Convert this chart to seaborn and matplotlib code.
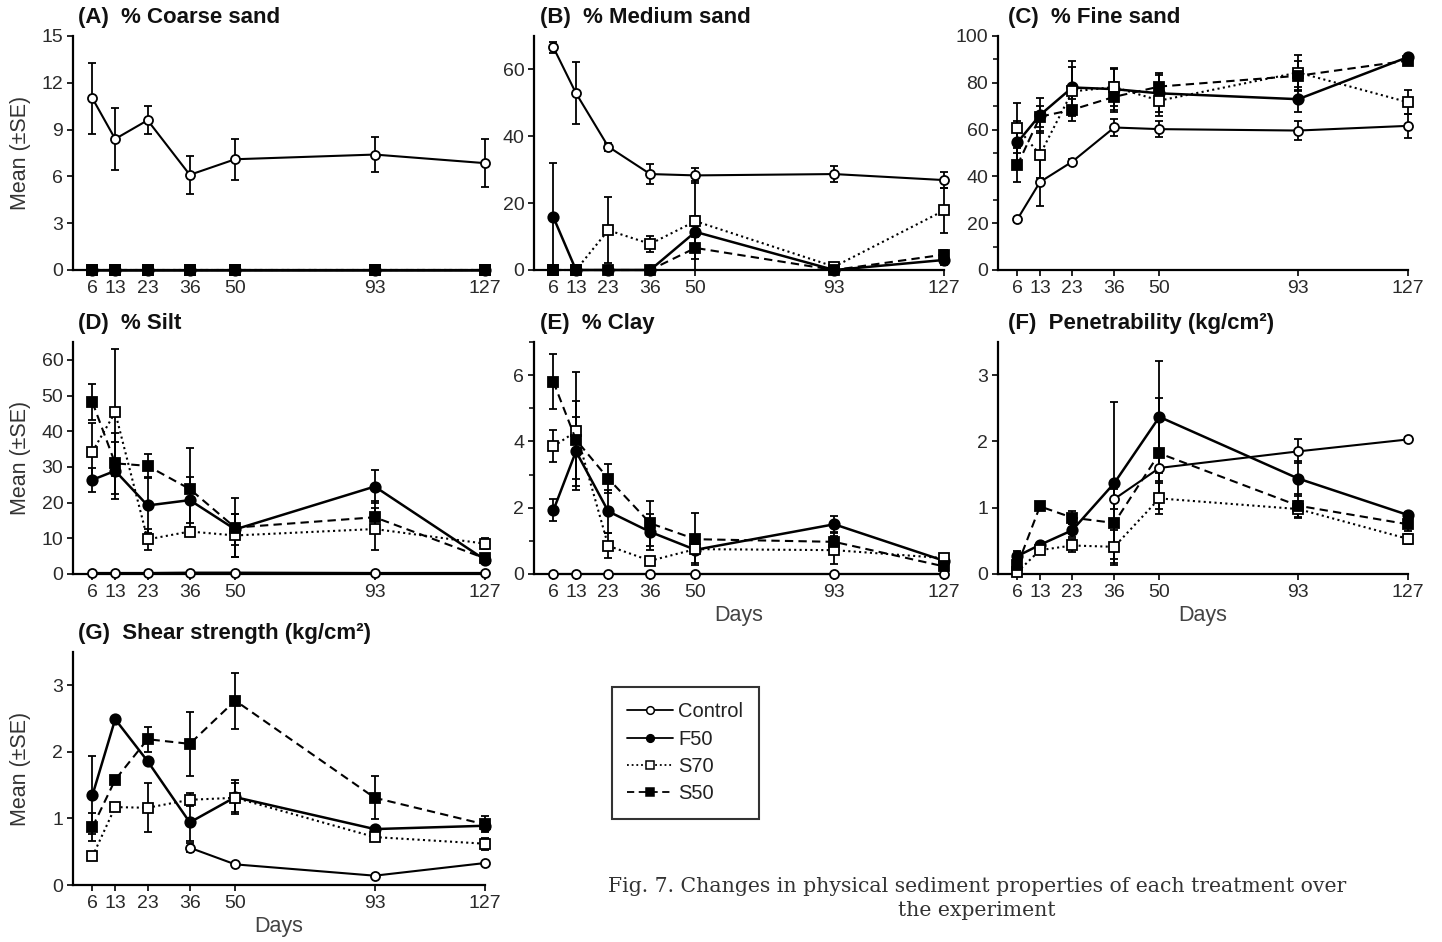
import numpy as np
import pandas as pd
import matplotlib
matplotlib.use("Agg")
import matplotlib.pyplot as plt
from matplotlib.lines import Line2D
from matplotlib.ticker import MultipleLocator
import seaborn as sns

sns.set_theme(style="ticks")
plt.rcParams['font.family'] = ['Liberation Sans', 'DejaVu Sans']

# ---------------- data ----------------
days = [6, 13, 23, 36, 50, 93, 127]
treatments = ["Control", "F50", "S70", "S50"]
nan = np.nan

# (A) % Coarse sand
coarse_control = [11.0, 8.4, 9.6, 6.1, 7.1, 7.4, 6.85]
coarse_control_se = [2.3, 2.0, 0.9, 1.2, 1.3, 1.1, 1.55]
coarse_f50 = [0, 0, 0, 0, 0, 0, 0]
coarse_f50_se = [0, 0, 0, 0, 0, 0, 0]
coarse_s70 = [0, 0, 0, 0, 0, 0, 0]
coarse_s70_se = [0, 0, 0, 0, 0, 0, 0]
coarse_s50 = [0, 0, 0, 0, 0, 0, 0]
coarse_s50_se = [0, 0, 0, 0, 0, 0, 0]

# (B) % Medium sand
medium_control = [66.6, 52.9, 36.9, 28.7, 28.3, 28.7, 26.9]
medium_control_se = [1.7, 9.3, 1.2, 2.9, 2.2, 2.5, 2.3]
medium_f50 = [15.8, 0, 0, 0, 11.4, 0, 3.0]
medium_f50_se = [16.3, 0, 0, 0, 15.3, 0, 1.5]
medium_s70 = [0, 0, 11.9, 7.8, 14.6, 1.0, 17.8]
medium_s70_se = [0, 0, 9.8, 2.4, 1.5, 1.0, 6.7]
medium_s50 = [0, 0, 0, 0, 6.6, 0, 4.6]
medium_s50_se = [0, 0, 0, 0, 3.4, 0, 1.3]

# (C) % Fine sand
fine_control = [21.7, 37.6, 46.3, 60.9, 60.2, 59.6, 61.6]
fine_control_se = [1.0, 10.3, 1.0, 3.6, 3.3, 4.2, 5.0]
fine_f50 = [54.5, 66.2, 78.0, 77.3, 75.5, 73.0, 91.0]
fine_f50_se = [9.0, 7.5, 11.3, 8.8, 8.0, 5.3, 1.0]
fine_s70 = [60.7, 49.3, 76.3, 78.2, 72.4, 84.4, 71.7]
fine_s70_se = [10.7, 10.0, 10.5, 8.2, 6.5, 7.5, 5.2]
fine_s50 = [44.8, 65.5, 68.5, 74.0, 78.4, 83.0, 89.5]
fine_s50_se = [7.3, 4.5, 4.7, 6.5, 6.0, 6.5, 1.2]

# (D) % Silt
silt_control = [0.3, 0.3, 0.3, 0.4, 0.4, 0.3, 0.3]
silt_control_se = [0, 0, 0, 0, 0, 0, 0]
silt_f50 = [26.4, 28.9, 19.2, 20.7, 12.5, 24.5, 4.0]
silt_f50_se = [3.4, 8.0, 7.7, 6.5, 4.3, 4.6, 1.0]
silt_s70 = [34.3, 45.3, 9.7, 11.9, 10.8, 12.6, 8.5]
silt_s70_se = [8.0, 17.8, 3.0, 1.2, 6.0, 5.8, 1.5]
silt_s50 = [48.1, 31.0, 30.3, 23.8, 13.0, 15.9, 4.4]
silt_s50_se = [5.0, 8.5, 3.2, 11.5, 8.3, 4.5, 1.0]

# (E) % Clay
clay_control = [0, 0, 0, 0, 0, 0, 0]
clay_control_se = [0, 0, 0, 0, 0, 0, 0]
clay_f50 = [1.92, 3.70, 1.89, 1.27, 0.73, 1.50, 0.40]
clay_f50_se = [0.33, 1.05, 0.65, 0.55, 0.40, 0.25, 0.05]
clay_s70 = [3.85, 4.30, 0.85, 0.40, 0.75, 0.72, 0.48]
clay_s70_se = [0.48, 1.78, 0.38, 0.12, 0.15, 0.42, 0.10]
clay_s50 = [5.80, 4.05, 2.88, 1.53, 1.05, 0.97, 0.23]
clay_s50_se = [0.83, 1.18, 0.44, 0.68, 0.78, 0.30, 0.10]

# (F) Penetrability (kg/cm2)
pen_control = [nan, nan, nan, 1.13, 1.60, 1.85, 2.03]
pen_control_se = [nan, nan, nan, 0.15, 0.20, 0.18, 0.03]
pen_f50 = [0.27, 0.44, 0.66, 1.37, 2.37, 1.44, 0.89]
pen_f50_se = [0.08, 0.03, 0.10, 1.23, 0.85, 0.27, 0.04]
pen_s70 = [0.03, 0.36, 0.43, 0.41, 1.14, 0.98, 0.53]
pen_s70_se = [0.03, 0.03, 0.10, 0.25, 0.24, 0.12, 0.08]
pen_s50 = [0.13, 1.02, 0.85, 0.77, 1.82, 1.03, 0.75]
pen_s50_se = [0.08, 0.03, 0.10, 0.55, 0.84, 0.18, 0.10]

# (G) Shear strength (kg/cm2)
shear_control = [nan, nan, nan, 0.56, 0.31, 0.14, 0.33]
shear_control_se = [nan, nan, nan, 0.07, 0.02, 0.03, 0.02]
shear_f50 = [1.35, 2.49, 1.86, 0.94, 1.32, 0.84, 0.89]
shear_f50_se = [0.59, 0.02, 0.03, 0.28, 0.25, 0.03, 0.05]
shear_s70 = [0.43, 1.17, 1.16, 1.28, 1.31, 0.72, 0.62]
shear_s70_se = [0.03, 0.05, 0.37, 0.10, 0.22, 0.05, 0.09]
shear_s50 = [0.87, 1.58, 2.19, 2.12, 2.77, 1.31, 0.91]
shear_s50_se = [0.21, 0.05, 0.19, 0.48, 0.42, 0.32, 0.12]

panel_titles = ["(A)  % Coarse sand", "(B)  % Medium sand", "(C)  % Fine sand",
                "(D)  % Silt", "(E)  % Clay", "(F)  Penetrability (kg/cm²)",
                "(G)  Shear strength (kg/cm²)"]

panels = [
    [(coarse_control, coarse_control_se), (coarse_f50, coarse_f50_se),
     (coarse_s70, coarse_s70_se), (coarse_s50, coarse_s50_se)],
    [(medium_control, medium_control_se), (medium_f50, medium_f50_se),
     (medium_s70, medium_s70_se), (medium_s50, medium_s50_se)],
    [(fine_control, fine_control_se), (fine_f50, fine_f50_se),
     (fine_s70, fine_s70_se), (fine_s50, fine_s50_se)],
    [(silt_control, silt_control_se), (silt_f50, silt_f50_se),
     (silt_s70, silt_s70_se), (silt_s50, silt_s50_se)],
    [(clay_control, clay_control_se), (clay_f50, clay_f50_se),
     (clay_s70, clay_s70_se), (clay_s50, clay_s50_se)],
    [(pen_control, pen_control_se), (pen_f50, pen_f50_se),
     (pen_s70, pen_s70_se), (pen_s50, pen_s50_se)],
    [(shear_control, shear_control_se), (shear_f50, shear_f50_se),
     (shear_s70, shear_s70_se), (shear_s50, shear_s50_se)],
]

# ---------------- styles / layout ----------------
styles = {
    "Control": dict(marker="o", mfc="white", ms=6.5, lw=1.5, ls="-"),
    "F50": dict(marker="o", mfc="black", ms=7.5, lw=1.8, ls="-"),
    "S70": dict(marker="s", mfc="white", ms=7.5, lw=1.5, ls=(0, (1, 1.6))),
    "S50": dict(marker="s", mfc="black", ms=7.5, lw=1.5, ls=(0, (4, 2.5))),
}

W, H = 1442, 942
col_x = [(73, 485), (534, 944), (998, 1408)]
row_y = [(36, 270), (342, 574), (652, 885)]
ylims = [15, 70, 100, 65, 7, 3.5, 3.5]
ymajor = [3, 20, 20, 10, 2, 1, 1]
yminor = [None, None, 10, None, 1, None, None]
title_xy = [(78, 18), (540, 18), (1008, 18), (78, 323), (540, 323), (1008, 323), (78, 634)]

fig = plt.figure(figsize=(W / 100, H / 100), dpi=100)
tick_col = "#2a2a2a"

for i, (series, title) in enumerate(zip(panels, panel_titles)):
    r, c = divmod(i, 3)
    x0, x1 = col_x[c]
    y0, y1 = row_y[r]
    ax = fig.add_axes([x0 / W, 1 - y1 / H, (x1 - x0) / W, (y1 - y0) / H])
    for name, (vals, se) in zip(treatments, series):
        st = styles[name]
        df = pd.DataFrame({"day": days, "mean": vals, "se": se}).dropna()
        sns.lineplot(data=df, x="day", y="mean", ax=ax, color="black",
                     marker=st["marker"], markerfacecolor=st["mfc"],
                     markeredgecolor="black", markeredgewidth=1.3,
                     markersize=st["ms"], linewidth=st["lw"], linestyle=st["ls"],
                     estimator=None, errorbar=None, clip_on=False, zorder=3)
        eb = df[df["se"] > 0]
        if len(eb):
            lower = np.minimum(eb["se"].values, eb["mean"].values)
            upper = eb["se"].values
            cont = ax.errorbar(eb["day"], eb["mean"], yerr=[lower, upper], fmt="none",
                               ecolor="black", elinewidth=1.3, capsize=3.2,
                               capthick=1.3, zorder=2)
            for art in list(cont.lines[1]) + list(cont.lines[2]):
                art.set_clip_on(False)
    ax.set_xlim(0, 127)
    ax.set_ylim(0, ylims[i])
    ax.set_xticks(days)
    ax.set_xticklabels([str(d) for d in days])
    ax.yaxis.set_major_locator(MultipleLocator(ymajor[i]))
    if yminor[i]:
        ax.yaxis.set_minor_locator(MultipleLocator(yminor[i]))
        ax.tick_params(axis="y", which="minor", length=3.5, width=1.1, color="black")
    ax.tick_params(axis="both", which="major", labelsize=14, length=4.5, width=1.2,
                   color="black", labelcolor=tick_col, pad=2.5)
    for s in ["top", "right"]:
        ax.spines[s].set_visible(False)
    for s in ["left", "bottom"]:
        ax.spines[s].set_linewidth(1.6)
        ax.spines[s].set_color("black")
    ax.set_xlabel("")
    ax.set_ylabel("")
    if c == 0:
        ax.set_ylabel("Mean (±SE)", fontsize=15.5, color="#333333")
        ax.yaxis.set_label_coords(-(x0 - 31) / (x1 - x0), 0.5)
    if i in (4, 5, 6):
        ax.set_xlabel("Days", fontsize=15.5, color="#444444")
        ax.xaxis.set_label_coords(0.5, -(31) / (y1 - y0))
    ax.set_facecolor("white")
    fig.text(title_xy[i][0] / W, 1 - title_xy[i][1] / H, title, fontsize=16,
             fontweight="bold", ha="left", va="center", color="#111111")

# legend
handles = []
for name in treatments:
    st = styles[name]
    handles.append(Line2D([0], [0], color="black", marker=st["marker"],
                          markerfacecolor=st["mfc"], markeredgecolor="black",
                          markersize=5.5, markeredgewidth=1.1,
                          linewidth=1.3, linestyle=st["ls"]))
leg = fig.legend(handles, treatments, loc="upper left",
                 bbox_to_anchor=(612 / W, 1 - 687 / H), borderaxespad=0,
                 fontsize=14.5, frameon=True, fancybox=False, handlelength=2.3,
                 handletextpad=0.25, labelspacing=0.42, borderpad=0.75)
leg.get_frame().set_edgecolor("black")
leg.get_frame().set_linewidth(1.5)
for t in leg.get_texts():
    t.set_color("#222222")

# caption
fig.text(977 / W, 1 - 886 / H,
         "Fig. 7. Changes in physical sediment properties of each treatment over",
         fontsize=14.7, family=["DejaVu Serif"], ha="center", va="center", color="#333333")
fig.text(977 / W, 1 - 911 / H, "the experiment",
         fontsize=14.7, family=["DejaVu Serif"], ha="center", va="center", color="#333333")

fig.savefig("out.png", dpi=100, facecolor="white")
